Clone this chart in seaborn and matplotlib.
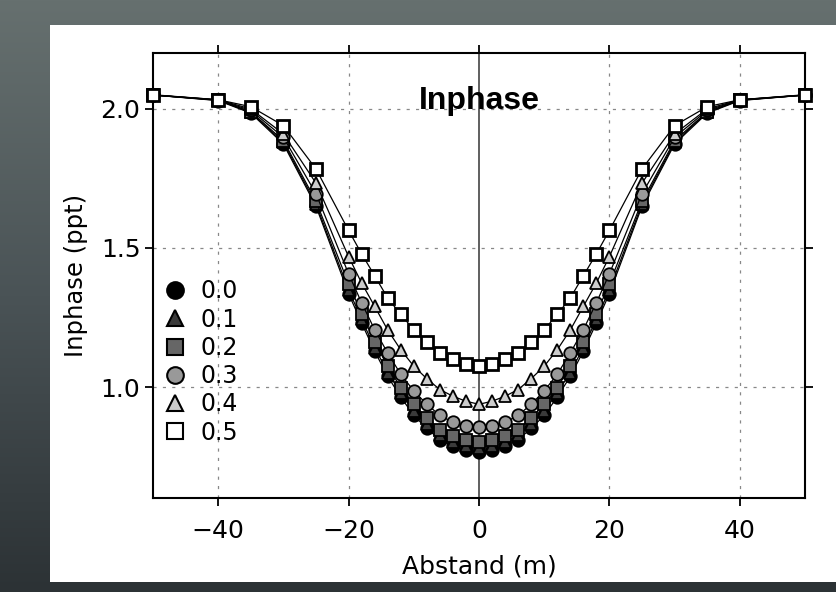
import matplotlib
matplotlib.use("Agg")
import matplotlib.pyplot as plt
from matplotlib.lines import Line2D
from matplotlib.patches import Rectangle
from matplotlib.colors import LinearSegmentedColormap
import seaborn as sns
import numpy as np

# Abstand (m)
abstand = [-50, -40, -35, -30, -25, -20, -18, -16, -14, -12, -10, -8, -6, -4, -2,
           0, 2, 4, 6, 8, 10, 12, 14, 16, 18, 20, 25, 30, 35, 40, 50]

# Inphase (ppt) je Parameter
inph_00 = [2.050, 2.030, 1.985, 1.874, 1.650, 1.336, 1.230, 1.129, 1.038, 0.964, 0.898,
           0.851, 0.811, 0.787, 0.773, 0.767, 0.773, 0.787, 0.811, 0.851, 0.898,
           0.964, 1.038, 1.129, 1.230, 1.336, 1.650, 1.874, 1.985, 2.030, 2.050]
inph_01 = [2.050, 2.031, 1.988, 1.880, 1.658, 1.350, 1.243, 1.142, 1.052, 0.978, 0.914,
           0.866, 0.826, 0.802, 0.788, 0.782, 0.788, 0.802, 0.826, 0.866, 0.914,
           0.978, 1.052, 1.142, 1.243, 1.350, 1.658, 1.880, 1.988, 2.031, 2.050]
inph_02 = [2.050, 2.032, 1.990, 1.886, 1.668, 1.371, 1.264, 1.162, 1.074, 0.998, 0.938,
           0.889, 0.847, 0.823, 0.809, 0.803, 0.809, 0.823, 0.847, 0.889, 0.938,
           0.998, 1.074, 1.162, 1.264, 1.371, 1.668, 1.886, 1.990, 2.032, 2.050]
inph_03 = [2.050, 2.032, 1.995, 1.898, 1.695, 1.407, 1.303, 1.206, 1.122, 1.046, 0.986,
           0.938, 0.898, 0.873, 0.859, 0.856, 0.859, 0.873, 0.898, 0.938, 0.986,
           1.046, 1.122, 1.206, 1.303, 1.407, 1.695, 1.898, 1.995, 2.032, 2.050]
inph_04 = [2.050, 2.033, 2.000, 1.910, 1.733, 1.469, 1.374, 1.290, 1.205, 1.134, 1.075,
           1.030, 0.991, 0.967, 0.949, 0.938, 0.949, 0.967, 0.991, 1.030, 1.075,
           1.134, 1.205, 1.290, 1.374, 1.469, 1.733, 1.910, 2.000, 2.033, 2.050]
inph_05 = [2.051, 2.033, 2.008, 1.940, 1.784, 1.563, 1.479, 1.400, 1.320, 1.261, 1.206,
           1.162, 1.124, 1.100, 1.084, 1.075, 1.084, 1.100, 1.124, 1.162, 1.206,
           1.261, 1.320, 1.400, 1.479, 1.563, 1.784, 1.940, 2.008, 2.033, 2.051]

labels = ["0.0", "0.1", "0.2", "0.3", "0.4", "0.5"]
serien = [inph_00, inph_01, inph_02, inph_03, inph_04, inph_05]
marker = ["o", "^", "s", "o", "^", "s"]
fuellung = ["#000000", "#3a3a3a", "#666666", "#999999", "#cccccc", "#ffffff"]

sns.set_style("white")
plt.rcParams["font.family"] = ["DejaVu Sans"]
plt.rcParams["text.color"] = "black"
plt.rcParams["axes.labelcolor"] = "black"
plt.rcParams["xtick.color"] = "black"
plt.rcParams["ytick.color"] = "black"

fig = plt.figure(figsize=(8.37, 5.92), dpi=100)

# Hintergrund (Schiefer-Optik) und weisse Flaeche
bg = fig.add_axes([0, 0, 1, 1], zorder=-10)
grad = np.linspace(0, 1, 256).reshape(-1, 1)
cmap = LinearSegmentedColormap.from_list("slate", ["#66706f", "#4a5356", "#2c3235"])
bg.imshow(grad, aspect="auto", cmap=cmap, extent=[0, 1, 0, 1])
bg.axis("off")
fig.patches.append(Rectangle((50 / 837, 1 - 582 / 592), 1 - 50 / 837, 557 / 592,
                             transform=fig.transFigure, facecolor="white",
                             edgecolor="none", zorder=-5))

ax = fig.add_axes([153 / 837, 1 - 498.3 / 592, 652 / 837, 445 / 592])
ax.set_facecolor("white")

for ys, lab, m, fc in zip(serien, labels, marker, fuellung):
    ew = 2.0 if lab == "0.5" else 1.3
    sns.lineplot(x=abstand, y=ys, ax=ax, color="black", linewidth=0.9,
                 marker=m, markersize=9, markerfacecolor=fc,
                 markeredgecolor="black", markeredgewidth=ew,
                 sort=False, estimator=None, legend=False, clip_on=False, zorder=3)

ax.set_xlim(-50, 50)
ax.set_ylim(0.6, 2.2)
ax.set_xticks([-40, -20, 0, 20, 40])
ax.set_yticks([1.0, 1.5, 2.0])
ax.set_yticklabels(["1.0", "1.5", "2.0"])

for xv in [-40, -20, 20, 40]:
    ax.axvline(xv, color="#888888", linewidth=0.9, linestyle=(0, (2.5, 5)), zorder=1)
for yv in [1.0, 1.5, 2.0]:
    ax.axhline(yv, color="#888888", linewidth=0.9, linestyle=(0, (2.5, 5)), zorder=1)
ax.axvline(0, color="#444444", linewidth=1.2, zorder=1)

for s in ax.spines.values():
    s.set_visible(True)
    s.set_linewidth(1.5)
    s.set_color("black")
ax.tick_params(direction="out", length=6, width=1.3, labelsize=18,
               top=True, right=True, bottom=True, left=True,
               labeltop=False, labelright=False)
ax.tick_params(axis="y", pad=3)
ax.tick_params(axis="x", pad=9)

ax.set_xlabel("Abstand (m)", fontsize=18, labelpad=8)
ax.set_ylabel("Inphase (ppt)", fontsize=17.5, labelpad=9)

ax.text(0.5, 0.893, "Inphase", transform=ax.transAxes, ha="center", va="center",
        fontsize=23, fontweight="bold", family=["Liberation Sans", "DejaVu Sans"], zorder=4)

handles = []
for lab, m, fc in zip(labels, marker, fuellung):
    handles.append(Line2D([], [], linestyle="none", marker=m, markersize=12,
                          markerfacecolor=fc, markeredgecolor="black",
                          markeredgewidth=1.5))
ax.legend(handles, labels, loc="upper left", bbox_to_anchor=(0.016, 0.492),
          frameon=False, fontsize=17, handlelength=1.0, handletextpad=0.55,
          labelspacing=0.18, borderpad=0, borderaxespad=0)

fig.savefig("out.png", dpi=100)
